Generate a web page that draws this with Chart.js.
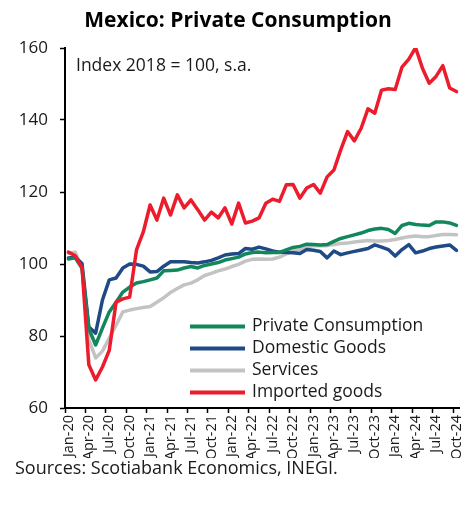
<!DOCTYPE html>
<html>
<head>
<meta charset="utf-8">
<script src="https://cdn.jsdelivr.net/npm/chart.js@4.4.1/dist/chart.umd.min.js"></script>
<style>
  html, body { margin: 0; padding: 0; background: #fff; }
  #wrap { width: 476px; height: 506px; }
</style>
</head>
<body>
<div id="wrap"><canvas id="consumptionChart"></canvas></div>
<script>
// Monthly, Jan-20 .. Oct-24 (index 2018 = 100, s.a.)
const monthLabels = [
  'Jan-20','Feb-20','Mar-20','Apr-20','May-20','Jun-20','Jul-20','Aug-20','Sep-20','Oct-20','Nov-20','Dec-20',
  'Jan-21','Feb-21','Mar-21','Apr-21','May-21','Jun-21','Jul-21','Aug-21','Sep-21','Oct-21','Nov-21','Dec-21',
  'Jan-22','Feb-22','Mar-22','Apr-22','May-22','Jun-22','Jul-22','Aug-22','Sep-22','Oct-22','Nov-22','Dec-22',
  'Jan-23','Feb-23','Mar-23','Apr-23','May-23','Jun-23','Jul-23','Aug-23','Sep-23','Oct-23','Nov-23','Dec-23',
  'Jan-24','Feb-24','Mar-24','Apr-24','May-24','Jun-24','Jul-24','Aug-24','Sep-24','Oct-24'
];

const privateConsumption = [
  101.4, 101.7, 98.8, 82.0, 77.5, 82.2, 86.7, 89.4, 92.2, 93.6, 94.7, 95.1,
  95.6, 96.1, 98.1, 98.2, 98.3, 98.9, 99.3, 98.9, 99.6, 100.0, 100.4, 101.1,
  101.5, 101.9, 102.8, 103.2, 103.3, 103.1, 103.2, 103.2, 103.9, 104.6, 104.9, 105.5,
  105.4, 105.3, 105.4, 106.3, 107.1, 107.6, 108.1, 108.6, 109.3, 109.7, 109.9, 109.6,
  108.5, 110.7, 111.3, 111.0, 110.8, 110.7, 111.7, 111.7, 111.4, 110.7
];

const domesticGoods = [
  101.7, 101.9, 100.1, 82.5, 80.8, 90.0, 95.6, 96.1, 98.9, 100.0, 99.9, 99.4,
  97.8, 97.9, 99.4, 100.6, 100.6, 100.6, 100.4, 100.3, 100.6, 101.0, 101.7, 102.5,
  102.8, 102.9, 104.3, 104.1, 104.7, 104.2, 103.6, 103.3, 103.2, 103.1, 102.9, 104.0,
  103.8, 103.5, 101.7, 103.6, 102.6, 103.1, 103.5, 103.9, 104.3, 105.3, 104.7, 104.0,
  102.2, 104.0, 105.4, 103.1, 103.6, 104.3, 104.7, 105.0, 105.3, 103.8
];

const services = [
  103.0, 103.3, 99.0, 79.0, 73.9, 75.8, 79.4, 83.0, 86.7, 87.2, 87.6, 87.9,
  88.2, 89.4, 90.6, 92.1, 93.2, 94.2, 94.7, 95.6, 96.8, 97.4, 98.1, 98.6,
  99.3, 99.9, 100.8, 101.3, 101.4, 101.3, 101.4, 101.9, 102.8, 103.6, 104.0, 104.7,
  105.1, 105.1, 105.1, 105.4, 105.7, 105.8, 106.1, 106.3, 106.5, 106.4, 106.4, 106.5,
  106.8, 107.2, 107.6, 107.8, 107.6, 107.6, 107.9, 108.2, 108.2, 108.1
];

const importedGoods = [
  103.3, 102.3, 99.0, 72.0, 67.8, 71.4, 76.0, 89.4, 90.3, 90.8, 103.9, 108.9,
  116.4, 112.2, 118.3, 113.6, 119.2, 115.6, 117.8, 115.1, 112.2, 114.4, 112.8, 115.6,
  111.1, 116.9, 111.4, 111.9, 112.8, 116.9, 118.0, 117.4, 122.0, 122.1, 118.3, 121.1,
  122.1, 119.7, 124.2, 126.1, 131.7, 136.8, 134.2, 137.7, 143.1, 141.9, 148.3, 148.7,
  148.5, 154.7, 156.9, 160.1, 154.4, 150.2, 152.1, 155.1, 148.9, 147.9
];

const yTicks = [60, 80, 100, 120, 140, 160];

const FONT = "'Open Sans', 'DejaVu Sans', sans-serif";

// legend + index note drawn inside the plot area
const insideNotes = {
  id: 'insideNotes',
  afterDraw(chart) {
    const ctx = chart.ctx;
    const area = chart.chartArea;
    ctx.save();
    ctx.font = '17.5px ' + FONT;
    ctx.fillStyle = '#1a1a1a';
    ctx.textBaseline = 'middle';
    ctx.textAlign = 'left';
    ctx.fillText('Index 2018 = 100, s.a.', area.left + 11, area.top + 18);

    chart.data.datasets.forEach((ds, i) => {
      const y = area.bottom - 81.5 + i * 22;
      ctx.strokeStyle = ds.borderColor;
      ctx.lineWidth = 4;
      ctx.beginPath();
      ctx.moveTo(area.left + 125, y);
      ctx.lineTo(area.left + 180, y);
      ctx.stroke();
      ctx.fillText(ds.label, area.left + 187, y);
    });
    ctx.restore();
  }
};

const ctx = document.getElementById('consumptionChart').getContext('2d');
const consumptionChart = new Chart(ctx, {
  type: 'line',
  data: {
    labels: monthLabels,
    datasets: [
      { label: 'Private Consumption', data: privateConsumption, borderColor: '#12875b', order: 1 },
      { label: 'Domestic Goods', data: domesticGoods, borderColor: '#1f4a86', order: 2 },
      { label: 'Services', data: services, borderColor: '#c3c3c3', order: 3 },
      { label: 'Imported goods', data: importedGoods, borderColor: '#ec1c2d', order: 0 }
    ]
  },
  options: {
    responsive: true,
    maintainAspectRatio: false,
    animation: false,
    layout: { padding: { top: 0, right: 15, bottom: 0, left: 15 } },
    elements: {
      line: { borderWidth: 3.5, tension: 0, fill: false, borderCapStyle: 'round', borderJoinStyle: 'round' },
      point: { radius: 0, hoverRadius: 0 }
    },
    plugins: {
      legend: { display: false },
      tooltip: { enabled: false },
      title: {
        display: true,
        text: 'Mexico: Private Consumption',
        color: '#000',
        font: { family: FONT, size: 21, weight: 'bold' },
        padding: { top: 8, bottom: 14.8 }
      },
      subtitle: {
        display: true,
        position: 'bottom',
        align: 'start',
        text: 'Sources: Scotiabank Economics, INEGI.',
        color: '#1a1a1a',
        font: { family: FONT, size: 18 },
        padding: { top: 0, bottom: 26.4 }
      }
    },
    scales: {
      x: {
        offset: true,
        afterFit(scale) { scale.height = 50; },
        border: { color: '#000', width: 2 },
        grid: {
          offset: true,
          drawOnChartArea: false,
          tickLength: 5,
          tickWidth: 1.5,
          tickColor: (c) => (c.index % 3 === 0 ? '#000' : 'rgba(0,0,0,0)')
        },
        ticks: {
          autoSkip: false,
          minRotation: 90,
          maxRotation: 90,
          padding: 2,
          color: '#1a1a1a',
          font: { family: FONT, size: 14.5 },
          callback: (value, index) => (index % 3 === 0 ? monthLabels[index] : '')
        }
      },
      y: {
        min: yTicks[0],
        max: yTicks[yTicks.length - 1],
        afterFit(scale) { scale.width = 50; },
        afterBuildTicks(scale) { scale.ticks = yTicks.map(v => ({ value: v })); },
        border: { color: '#000', width: 2 },
        grid: { drawOnChartArea: false, tickLength: 5, tickWidth: 1.5, tickColor: '#000' },
        ticks: {
          padding: 12,
          color: '#1a1a1a',
          font: { family: FONT, size: 17 }
        }
      }
    }
  },
  plugins: [insideNotes]
});
</script>
</body>
</html>
